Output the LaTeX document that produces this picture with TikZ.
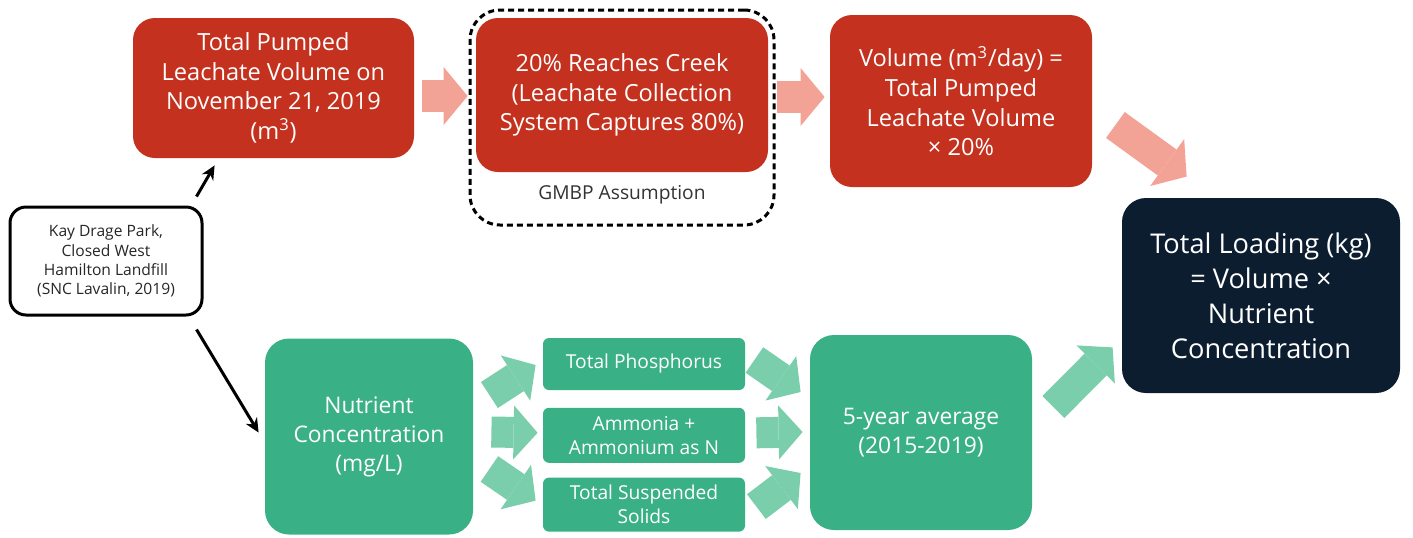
\documentclass[tikz,border=0pt]{standalone}
\usepackage{fontspec}
\setmainfont{Open Sans}
\usetikzlibrary{arrows.meta,calc,positioning}
\definecolor{lfred}{RGB}{196,49,30}
\definecolor{lfpink}{RGB}{243,162,150}
\definecolor{lfgreen}{RGB}{58,176,134}
\definecolor{lfmint}{RGB}{122,206,172}
\definecolor{lfnavy}{RGB}{13,29,48}

\begin{document}
\begin{tikzpicture}[x=0.5pt,y=-0.5pt,
      r/.style={fill=lfred,text=white,rounded corners=11pt,align=center,inner sep=0pt,
        font=\fontsize{11.8}{14.8}\selectfont},
      g/.style={fill=lfgreen,text=white,align=center,inner sep=0pt},
      gbig/.style={g,rounded corners=12pt,minimum height=98pt,font=\fontsize{11.4}{14.5}\selectfont},
      gsm/.style={g,rounded corners=3pt,minimum width=101pt,font=\fontsize{9.6}{12}\selectfont},
      a/.style={-{Stealth[length=7pt,width=6.5pt]},line width=1.5pt},
      pa/.style={draw=lfpink,line width=16pt,-{Triangle[length=12pt,width=29pt,line width=0pt]}},
      ga/.style={draw=lfmint,line width=15.5pt,-{Triangle[length=12pt,width=27pt,line width=0pt]}}]
  \useasboundingbox (0,0) rectangle (1413,537);
  % top row: leachate volume
  \node[draw,line width=1.5pt,rounded corners=8pt,align=center,text=black!85,minimum width=96pt,minimum height=54pt,
    font=\fontsize{7.8}{9.6}\selectfont] (src) at (106,261) {Kay Drage Park,\\Closed West\\Hamilton Landfill\\(SNC Lavalin, 2019)};
  \node[r,minimum width=140.5pt,minimum height=70pt] (pumped) at (273.5,88) {Total Pumped\\Leachate Volume on\\November 21, 2019\\(m\textsuperscript{3})};
  \node[r,minimum width=146pt,minimum height=77pt] (creek) at (622,95) {20\% Reaches Creek\\(Leachate Collection\\System Captures 80\%)};
  \node[draw,line width=1.5pt,dash pattern=on 3pt off 2pt,rounded corners=15pt,minimum width=152pt,minimum height=107.5pt] (assume) at (622,117.5) {};
  \node[text=black!80,font=\fontsize{9.6}{10}\selectfont] (gmbp) at (622,195) {GMBP Assumption};
  \node[r,minimum width=131pt,minimum height=86pt] (volume) at (961,101) {Volume (m\textsuperscript{3}/day) =\\Total Pumped\\Leachate Volume\\× 20\%};
  \node[fill=lfnavy,text=white,rounded corners=12pt,align=center,minimum width=139pt,minimum height=97.5pt,
    font=\fontsize{13.6}{17.5}\selectfont] (loading) at (1261,295.5) {Total Loading (kg)\\= Volume ×\\Nutrient\\Concentration};
  % bottom row: nutrients
  \node[gbig,minimum width=104pt] (nutrient) at (369,436.5) {Nutrient\\Concentration\\(mg/L)};
  \node[gsm,minimum height=26pt] (tp) at (644,364) {Total Phosphorus};
  \node[gsm,minimum height=27.5pt,below=8.5pt of tp] (nh) {Ammonia +\\Ammonium as N};
  \node[gsm,minimum height=27pt,below=7pt of nh] (tss) {Total Suspended\\Solids};
  \node[gbig,minimum width=111pt,minimum height=97.5pt] (avg) at (921,432.5) {5-year average\\(2015-2019)};
  % connectors
  \draw[a] ($(src.north east)+(-7,-9)$) -- ($(pumped.south west)+(82,7)$);
  \draw[a] ($(src.south east)+(-7,13)$) -- ($(nutrient.west)+(-6,-4)$);
  \draw[pa] ($(pumped.east)+(8,8)$) -- ($(creek.west)+(-8,1)$);
  \draw[pa] ($(creek.east)+(9,2)$) -- ($(volume.west)+(-5,-4)$);
  \draw[pa] ($(volume.east)+(23,24)$) -- ($(loading.north west)+(65,-21)$);
  \draw[ga] ($(nutrient.east)+(16,-41.5)$) -- ($(tp.west)+(-7,1)$);
  \draw[ga] ($(nutrient.east)+(18,-4.5)$) -- ($(nh.west)+(-5,-2.5)$);
  \draw[ga] ($(nutrient.east)+(16,32.5)$) -- ($(tss.west)+(-7,-4)$);
  \draw[ga] ($(tp.east)+(9,-4)$) -- ($(avg.west)+(-9,-40.5)$);
  \draw[ga] ($(nh.east)+(11,-2.5)$) -- ($(avg.west)+(-7,-0.5)$);
  \draw[ga] ($(tss.east)+(11,2)$) -- ($(avg.west)+(-9,40.5)$);
  \draw[ga] ($(avg.east)+(21,-25.5)$) -- ($(loading.south west)+(-9,-46)$);
\end{tikzpicture}
\end{document}
